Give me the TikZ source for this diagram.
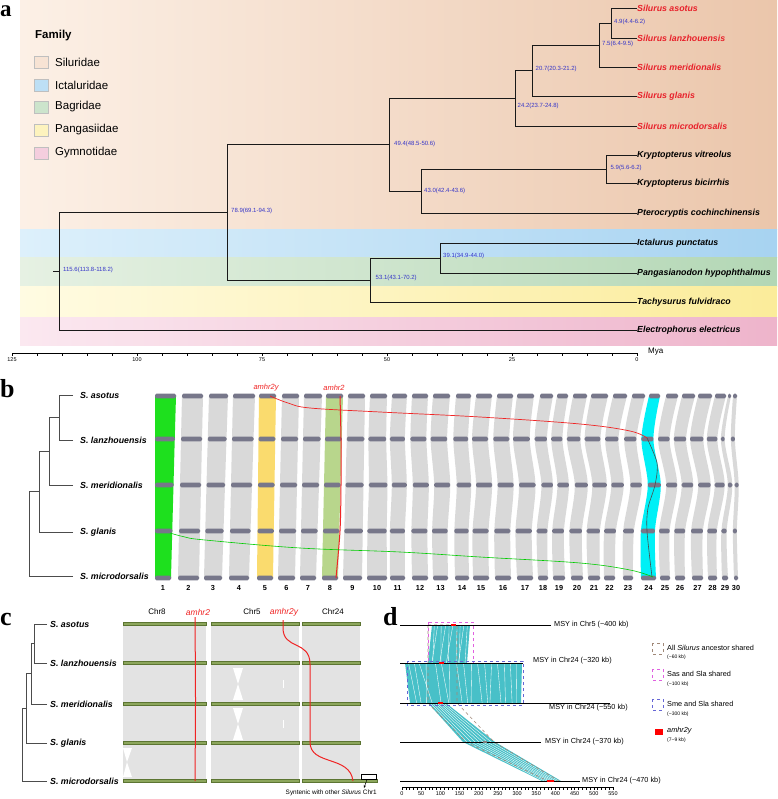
\documentclass[tikz,border=0pt]{standalone}
\usepackage{fontspec}
\usetikzlibrary{arrows.meta}
\setmainfont{Liberation Sans}
\newfontfamily\panelfont{Liberation Serif}
\newcommand\fsz[1]{\fontsize{#1}{#1}\selectfont}
\definecolor{silred}{HTML}{E8212B}
\definecolor{nodeblue}{HTML}{3535C8}
\definecolor{silL}{HTML}{FCF0E6}
\definecolor{silR}{HTML}{EBC6AB}
\definecolor{ictL}{HTML}{DDF0FB}
\definecolor{ictR}{HTML}{A7D3F1}
\definecolor{bagL}{HTML}{E6F1E3}
\definecolor{bagR}{HTML}{B3D7B5}
\definecolor{panL}{HTML}{FFFBE2}
\definecolor{panR}{HTML}{FBEC9A}
\definecolor{gymL}{HTML}{FBE8F0}
\definecolor{gymR}{HTML}{EEB4CB}
\definecolor{rg}{HTML}{D9D9D9}
\definecolor{cg1}{HTML}{1EE01E}
\definecolor{cy5}{HTML}{FADB6E}
\definecolor{cg8}{HTML}{B8D68C}
\definecolor{cc24}{HTML}{00F0F6}
\definecolor{barc}{HTML}{77778A}
\definecolor{cgray}{HTML}{E3E3E3}
\definecolor{cbarf}{HTML}{8CA65C}
\definecolor{cbard}{HTML}{5C7532}
\definecolor{teal}{HTML}{48C0C8}
\definecolor{dbrown}{HTML}{A08878}
\definecolor{dmag}{HTML}{E060E0}
\definecolor{dblue}{HTML}{6666D6}
\definecolor{genered}{HTML}{F02424}
\begin{document}
\begin{tikzpicture}[x=1pt,y=-1pt,
  tipr/.style={anchor=west,inner sep=0pt,font=\fsz{8.8}\bfseries\itshape,text=silred},
  tipk/.style={tipr,text=black},
  nlab/.style={anchor=west,inner sep=0pt,font=\fsz{6},text=nodeblue},
  br/.style={draw=black!90,line width=0.9pt},
  leg/.style={anchor=west,inner sep=0pt,font=\fsz{11.5}},
  sq/.style={draw=black!25,line width=0.4pt},
  axl/.style={font=\fsz{5.5},inner sep=0pt,anchor=north},
  plab/.style={font=\panelfont\bfseries\fsz{26},inner sep=0pt,anchor=base west},
  sp/.style={anchor=west,inner sep=0pt,font=\fsz{8.8}\bfseries\itshape},
  bbr/.style={draw=black!70,line width=0.8pt},
  bar/.style={fill=barc,rounded corners=1.4pt},
  num/.style={font=\fsz{7.3}\bfseries,inner sep=0pt},
  gene/.style={font=\fsz{7.5}\itshape,text=genered,inner sep=0pt},
  redl/.style={draw=genered,line width=1pt},
  cbar/.style={fill=cbarf,draw=cbard,line width=0.4pt},
  chrt/.style={font=\fsz{8},inner sep=0pt},
  msy/.style={draw=black,line width=1pt},
  msyl/.style={anchor=west,inner sep=0pt,font=\fsz{7.3}},
  dleg/.style={anchor=west,inner sep=0pt,font=\fsz{7.3}},
  dsub/.style={anchor=west,inner sep=0pt,font=\fsz{5}},
  strk/.style={draw=white,line width=0.35pt}
]
\useasboundingbox (0,0) rectangle (777,799);
\fill[white] (0,0) rectangle (777,799);

%% ================= panel a =================
\shade[left color=silL, right color=silR] (20,1) rectangle (777,230);
\shade[left color=ictL, right color=ictR] (20,230) rectangle (777,258);
\shade[left color=bagL, right color=bagR] (20,258) rectangle (777,286);
\shade[left color=panL, right color=panR] (20,286) rectangle (777,317);
\shade[left color=gymL, right color=gymR] (20,317) rectangle (777,345);
\node[plab,font=\panelfont\bfseries\fsz{23}] (pa) at (0,16.5) {a};

\node[anchor=west,inner sep=0pt,font=\fsz{11.5}\bfseries] (famt) at (35,36) {Family};
\draw[sq,fill=silL!70!silR] (34,56) rectangle (48,68);
\node[leg] (l1) at (55,62) {Siluridae};
\draw[sq,fill=ictL!40!ictR] (34,79) rectangle (48,91);
\node[leg] (l2) at (55,85) {Ictaluridae};
\draw[sq,fill=bagL!50!bagR] (34,101) rectangle (48,113);
\node[leg] (l3) at (55,107) {Bagridae};
\draw[sq,fill=panL!50!panR] (34,124) rectangle (48,136);
\node[leg] (l4) at (55,130) {Pangasiidae};
\draw[sq,fill=gymL!50!gymR] (34,147) rectangle (48,159);
\node[leg] (l5) at (55,153) {Gymnotidae};

% tips
\node[tipr] (t1) at (637,8) {Silurus asotus};
\node[tipr] (t2) at (637,38) {Silurus lanzhouensis};
\node[tipr] (t3) at (637,67) {Silurus meridionalis};
\node[tipr] (t4) at (637,96) {Silurus glanis};
\node[tipr] (t5) at (637,126) {Silurus microdorsalis};
\node[tipk] (t6) at (637,155) {Kryptopterus vitreolus};
\node[tipk] (t7) at (637,183) {Kryptopterus bicirrhis};
\node[tipk] (t8) at (637,213) {Pterocryptis cochinchinensis};
\node[tipk] (t9) at (637,243) {Ictalurus punctatus};
\node[tipk] (t10) at (637,273) {Pangasianodon hypophthalmus};
\node[tipk] (t11) at (637,302) {Tachysurus fulvidraco};
\node[tipk] (t12) at (637,330) {Electrophorus electricus};
% internal nodes
\coordinate (n49) at (611.5,23);
\coordinate (n75) at (599,45);
\coordinate (n207) at (532.5,70.5);
\coordinate (n242) at (515,98);
\coordinate (n59) at (606.5,169);
\coordinate (n430) at (421,191);
\coordinate (n494) at (389,144.5);
\coordinate (n391) at (440.5,258);
\coordinate (n531) at (370.5,280);
\coordinate (n789) at (227,212);
\coordinate (n1156) at (59,271);
\coordinate (root) at (53,271);
\draw[br] (t1.west) -| (n49); \draw[br] (t2.west) -| (n49);
\draw[br] (n49) -| (n75); \draw[br] (t3.west) -| (n75);
\draw[br] (n75) -| (n207); \draw[br] (t4.west) -| (n207);
\draw[br] (n207) -| (n242); \draw[br] (t5.west) -| (n242);
\draw[br] (t6.west) -| (n59); \draw[br] (t7.west) -| (n59);
\draw[br] (n59) -| (n430); \draw[br] (t8.west) -| (n430);
\draw[br] (n242) -| (n494); \draw[br] (n430) -| (n494);
\draw[br] (t9.west) -| (n391); \draw[br] (t10.west) -| (n391);
\draw[br] (n391) -| (n531); \draw[br] (t11.west) -| (n531);
\draw[br] (n494) -| (n789); \draw[br] (n531) -| (n789);
\draw[br] (n789) -| (n1156); \draw[br] (t12.west) -| (n1156);
\draw[br] (root) -- (n1156);
% node labels
\node[nlab] (a1) at (614,22) {4.9(4.4-6.2)};
\node[nlab] (a2) at (602,44) {7.5(6.4-9.5)};
\node[nlab] (a3) at (535.5,69) {20.7(20.3-21.2)};
\node[nlab] (a4) at (517.5,106) {24.2(23.7-24.8)};
\node[nlab] (a5) at (394,144) {49.4(48.5-50.6)};
\node[nlab] (a6) at (610.5,168) {5.9(5.6-6.2)};
\node[nlab] (a7) at (424,191) {43.0(42.4-43.6)};
\node[nlab] (a8) at (231,211) {78.9(69.1-94.3)};
\node[nlab] (a9) at (443,256) {39.1(34.9-44.0)};
\node[nlab] (a10) at (375.5,278) {53.1(43.1-70.2)};
\node[nlab] (a11) at (63,270) {115.6(113.8-118.2)};
% axis
\coordinate (ax0) at (12,353); \coordinate (ax1) at (637,353);
\draw[line width=0.8pt] (ax0) -- (ax1);
\foreach \t in {0,5,...,125} \draw[line width=0.6pt] ({637-5*\t},353) -- ++(0,2.5);
\foreach \t in {0,25,...,125} \node[axl] at ({637-5*\t},357.5) {\t};
\node[anchor=west,inner sep=0pt,font=\fsz{8}] (mya) at (648,352) {Mya};

%% ================= panel b =================
\node[plab] (pb) at (0,397) {b};
\coordinate (bt1) at (73,395); \coordinate (bt2) at (73,440);
\coordinate (bt3) at (73,485); \coordinate (bt4) at (73,532);
\coordinate (bt5) at (73,576);
\node[sp] (bs1) at (80,395) {S. asotus};
\node[sp] (bs2) at (80,440) {S. lanzhouensis};
\node[sp] (bs3) at (80,485) {S. meridionalis};
\node[sp] (bs4) at (80,532) {S. glanis};
\node[sp] (bs5) at (80,576) {S. microdorsalis};
\coordinate (bn1) at (59,417.5); \coordinate (bn2) at (49,451);
\coordinate (bn3) at (39,491.5); \coordinate (bn4) at (29,534);
\draw[bbr] (bt1) -| (bn1); \draw[bbr] (bt2) -| (bn1);
\draw[bbr] (bn1) -| (bn2); \draw[bbr] (bt3) -| (bn2);
\draw[bbr] (bn2) -| (bn3); \draw[bbr] (bt4) -| (bn3);
\draw[bbr] (bn3) -| (bn4); \draw[bbr] (bt5) -| (bn4);

\foreach \i/\la/\ra/\lb/\rb/\A/\col in {
 1/155/176/155/171/0/cg1, 2/182/203/178/199/0/rg, 3/209/228/204/222/0/rg,
 4/233/255/229/249/0/rg, 5/259/276/257/273/0/cy5, 6/282/299/278/295/0/rg,
 7/304/322/300/316/0/rg, 8/326/343/322/338/0/cg8, 9/348/365/343/362/0/rg,
 10/370/387/367/387/1/rg, 11/392/407/390/405/2/rg, 12/412/428/412/428/2/rg,
 13/433/450/433/448/3/rg, 14/456/471/455/469/3/rg, 15/476/492/473/489/4/rg,
 16/497/513/495/511/4/rg, 17/517/534/517/533/5/rg, 18/540/553/538/548/6/rg,
 19/557/568/553/565/6/rg, 20/573/587/571/583/7/rg, 21/591/608/588/600/7/rg,
 22/613/627/604/615/7/rg, 23/632/645/623/633/7/rg, 24/649/660/641/656/7/cc24,
 25/666/678/660/670/8/rg, 26/682/695/675/685/8/rg, 27/698/712/692/703/8/rg,
 28/715/726/708/717/8/rg, 29/728/731/722/728/7/rg, 30/733/737/734/738/3/rg}
{
 \pgfmathsetmacro\lB{\la+0.25*(\lb-\la)-0.8*\A}
 \pgfmathsetmacro\rB{\ra+0.25*(\rb-\ra)-0.8*\A}
 \pgfmathsetmacro\lC{\la+0.5*(\lb-\la)+0.4*\A}
 \pgfmathsetmacro\rC{\ra+0.5*(\rb-\ra)+0.4*\A}
 \pgfmathsetmacro\lD{\la+0.75*(\lb-\la)-0.3*\A}
 \pgfmathsetmacro\rD{\ra+0.75*(\rb-\ra)-0.3*\A}
 \fill[\col] plot[smooth] coordinates {(\la,396) (\lB,439) (\lC,485) (\lD,531) (\lb,578)}
   -- plot[smooth] coordinates {(\rb,578) (\rD,531) (\rC,485) (\rB,439) (\ra,396)} -- cycle;
 \fill[bar] (\la,393.7) rectangle (\ra,398.3);
 \fill[bar] (\lB,436.7) rectangle (\rB,441.3);
 \fill[bar] (\lC,482.7) rectangle (\rC,487.3);
 \fill[bar] (\lD,528.7) rectangle (\rD,533.3);
 \fill[bar] (\lb,575.7) rectangle (\rb,580.3);
 \node[num] at ({(\lb+\rb)/2},588) {\i};
}
\node[gene] (g5) at (266,388) {amhr2y};
\node[gene] (g8) at (334,388) {amhr2};
% amhr2 on chr8
\draw[redl] plot[smooth] coordinates {(340,396) (341,440) (341,485) (340,531) (336,578)};
% amhr2y path from chr5 to chr24
\draw[redl,line width=0.7pt] plot[smooth,tension=0.6] coordinates {(270,396) (288,403) (310,408) (380,412) (480,417) (580,424) (630,431) (647,438)};
\draw[draw=black!70,line width=0.6pt] plot[smooth] coordinates {(647,438) (657,463) (655,485) (648,508) (647,531) (652,577)};
% chr1 to chr24 green
\draw[draw=green!80!black,line width=0.6pt] plot[smooth,tension=0.6] coordinates {(170,533) (185,537) (205,540) (300,548) (400,552) (480,557) (580,563) (630,570) (653,577)};

%% ================= panel c =================
\node[plab] (pc) at (0,625) {c};
\coordinate (ct1) at (47,624); \coordinate (ct2) at (47,663);
\coordinate (ct3) at (47,704); \coordinate (ct4) at (47,743);
\coordinate (ct5) at (47,781);
\node[sp] (cs1) at (50,624) {S. asotus};
\node[sp] (cs2) at (50,663) {S. lanzhouensis};
\node[sp] (cs3) at (50,704) {S. meridionalis};
\node[sp] (cs4) at (50,743) {S. glanis};
\node[sp] (cs5) at (50,781) {S. microdorsalis};
\coordinate (cn1) at (34,643.5); \coordinate (cn2) at (31,673.8);
\coordinate (cn3) at (26,708.4); \coordinate (cn4) at (22,744.7);
\draw[bbr] (ct1) -| (cn1); \draw[bbr] (ct2) -| (cn1);
\draw[bbr] (cn1) -| (cn2); \draw[bbr] (ct3) -| (cn2);
\draw[bbr] (cn2) -| (cn3); \draw[bbr] (ct4) -| (cn3);
\draw[bbr] (cn3) -| (cn4); \draw[bbr] (ct5) -| (cn4);
\fill[cgray] (123,624) rectangle (206,781);
\fill[cgray] (211,624) rectangle (299,781);
\fill[cgray] (302,624) rectangle (360,781);
% white inversion marks
\fill[white] (233,668) -- (243,668) -- (238,684) -- cycle;
\fill[white] (238,684) -- (243,700) -- (233,700) -- cycle;
\fill[white] (233,708) -- (243,708) -- (238,724) -- cycle;
\fill[white] (238,724) -- (243,740) -- (233,740) -- cycle;
\fill[white] (123,748) -- (132,748) -- (127,762) -- cycle;
\fill[white] (127,762) -- (132,777) -- (123,777) -- cycle;
\fill[white] (282.5,680) rectangle (283.7,688);
\fill[white] (282.5,720) rectangle (283.7,728);
\foreach \y in {624,663,704,743,781} {
  \fill[cbar] (123,\y-1.6) rectangle (206,\y+1.6);
  \fill[cbar] (211,\y-1.6) rectangle (299,\y+1.6);
}
\foreach \y in {624,663,704,743} \fill[cbar] (302,\y-1.6) rectangle (360,\y+1.6);
\fill[cbar] (302,779.4) rectangle (377,782.6);
\node[chrt] (c8) at (157,612) {Chr8};
\node[chrt] (c5) at (252,612) {Chr5};
\node[chrt] (c24) at (333,612) {Chr24};
\node[gene,font=\fsz{8.5}\itshape] (cg2) at (198,612) {amhr2};
\node[gene,font=\fsz{8.5}\itshape] (cg2y) at (284,612) {amhr2y};
\coordinate (am2t) at (195,617); \coordinate (am2b) at (195,781);
\draw[redl] plot[smooth] coordinates {(am2t) (195.3,660) (195.5,700) (195.3,740) (am2b)};
\coordinate (am2yt) at (283,620); \coordinate (am2yb) at (353,781);
\draw[redl] (am2yt) -- (283,628) .. controls (283,650) and (310,640) .. (310,664) -- (310,742) .. controls (310,766) and (350,755) .. (am2yb);
\draw[black,line width=0.5pt,fill=white] (361,774) rectangle (376,779.4);
\node[anchor=east,inner sep=0pt,font=\fsz{6.4}] (synt) at (377,793) {Syntenic with other \textit{Silurus} Chr1};
\draw[-{Stealth[length=3pt]},line width=0.5pt] (367,779.4) -- (364,788);

%% ================= panel d =================
\node[plab] (pd) at (383,625) {d};
% links
\fill[teal] (432,625) -- (470,625) -- (467,663) -- (428,663) -- cycle;
\foreach \f/\g in {0.06/0.12,0.15/0.1,0.24/0.33,0.36/0.3,0.45/0.52,0.55/0.47,0.66/0.72,0.74/0.8,0.84/0.78,0.93/0.95}
  \draw[strk] ({432+38*\f},625) -- ({428+39*\g},663);
\fill[teal] (405,663) -- (522,663) -- (521,703) -- (410,703) -- cycle;
\foreach \f/\g in {0.03/0.06,0.08/0.1,0.12/0.2,0.18/0.15,0.26/0.28,0.31/0.35,0.38/0.36,0.44/0.47,0.5/0.52,0.57/0.55,0.62/0.65,0.68/0.7,0.74/0.72,0.79/0.82,0.85/0.86,0.9/0.92,0.95/0.96}
  \draw[strk] ({405+117*\f},663) -- ({410+111*\g},703);
\fill[teal] (428,703) -- (446,703) -- (495,742) -- (463,742) -- cycle;
\foreach \f in {0.12,0.25,0.38,0.5,0.62,0.75,0.88}
  \draw[strk] ({428+18*\f},703) -- ({463+32*\f},742);
\fill[teal] (463,742) -- (495,742) -- (561,781) -- (542,781) -- cycle;
\foreach \f in {0.12,0.25,0.38,0.5,0.62,0.75,0.88}
  \draw[strk] ({463+32*\f},742) -- ({542+19*\f},781);
% dashed regions
\draw[dbrown,dashed,line width=0.6pt] (428,625) -- (457,625) -- (457,703) -- (494,742) -- (559,781) -- (548,781) -- (466,742) -- (428,703) -- cycle;
\draw[dmag,dashed,line width=0.6pt] (428,622) rectangle (473,663);
\draw[dblue,dashed,line width=0.6pt] (407,661) rectangle (523,705);
% MSY lines
\coordinate (m1a) at (400,625); \coordinate (m1b) at (551,625);
\coordinate (m2a) at (400,663); \coordinate (m2b) at (523,663);
\coordinate (m3a) at (400,703); \coordinate (m3b) at (610,703);
\coordinate (m4a) at (400,742); \coordinate (m4b) at (541,742);
\coordinate (m5a) at (400,781); \coordinate (m5b) at (580,781);
\draw[msy] (m1a) -- (m1b); \draw[msy] (m2a) -- (m2b); \draw[msy] (m3a) -- (m3b);
\draw[msy] (m4a) -- (m4b); \draw[msy] (m5a) -- (m5b);
\node[msyl] (ml1) at (554,625) {MSY in Chr5 (\textasciitilde400 kb)};
\node[msyl] (ml2) at (533,661) {MSY in Chr24 (\textasciitilde320 kb)};
\node[msyl] (ml3) at (549,708) {MSY in Chr24 (\textasciitilde550 kb)};
\node[msyl] (ml4) at (545,742) {MSY in Chr24 (\textasciitilde370 kb)};
\node[msyl] (ml5) at (582,781) {MSY in Chr24 (\textasciitilde470 kb)};
% amhr2y marks
\fill[red] (451,623.8) rectangle (456,626.2);
\fill[red] (439,661.8) rectangle (444,664.2);
\fill[red] (438,701.8) rectangle (443,704.2);
\fill[gray] (483,740.8) rectangle (487,743.2);
\fill[red] (547,779.8) rectangle (554,782.2);
% scale
\draw[line width=0.6pt] (402,787) -- (613,787);
\foreach \k in {0,...,55} \draw[line width=0.4pt] ({402+\k*3.836},787) -- ++(0,3);
\foreach \v in {0,50,...,550} \node[axl] at ({402+\v*0.3836},791.5) {\v};
% legend d
\draw[dbrown,dashed,line width=0.6pt] (652,643) rectangle (663,654);
\node[dleg] (dl1) at (667,648) {All \textit{Silurus} ancestor shared};
\node[dsub] (ds1) at (667,657) {(\textasciitilde60 kb)};
\draw[dmag,dashed,line width=0.6pt] (652,669) rectangle (663,680);
\node[dleg] (dl2) at (667,674) {Sas and Sla shared};
\node[dsub] (ds2) at (667,684) {(\textasciitilde100 kb)};
\draw[dblue,dashed,line width=0.6pt] (652,699) rectangle (663,710);
\node[dleg] (dl3) at (667,704) {Sme and Sla shared};
\node[dsub] (ds3) at (667,714) {(\textasciitilde300 kb)};
\fill[red] (655,729) rectangle (663,735);
\node[dleg,font=\fsz{7.3}\itshape] (dl4) at (667,731) {amhr2y};
\node[dsub] (ds4) at (667,740) {(7\textasciitilde9 kb)};
\end{tikzpicture}
\end{document}
